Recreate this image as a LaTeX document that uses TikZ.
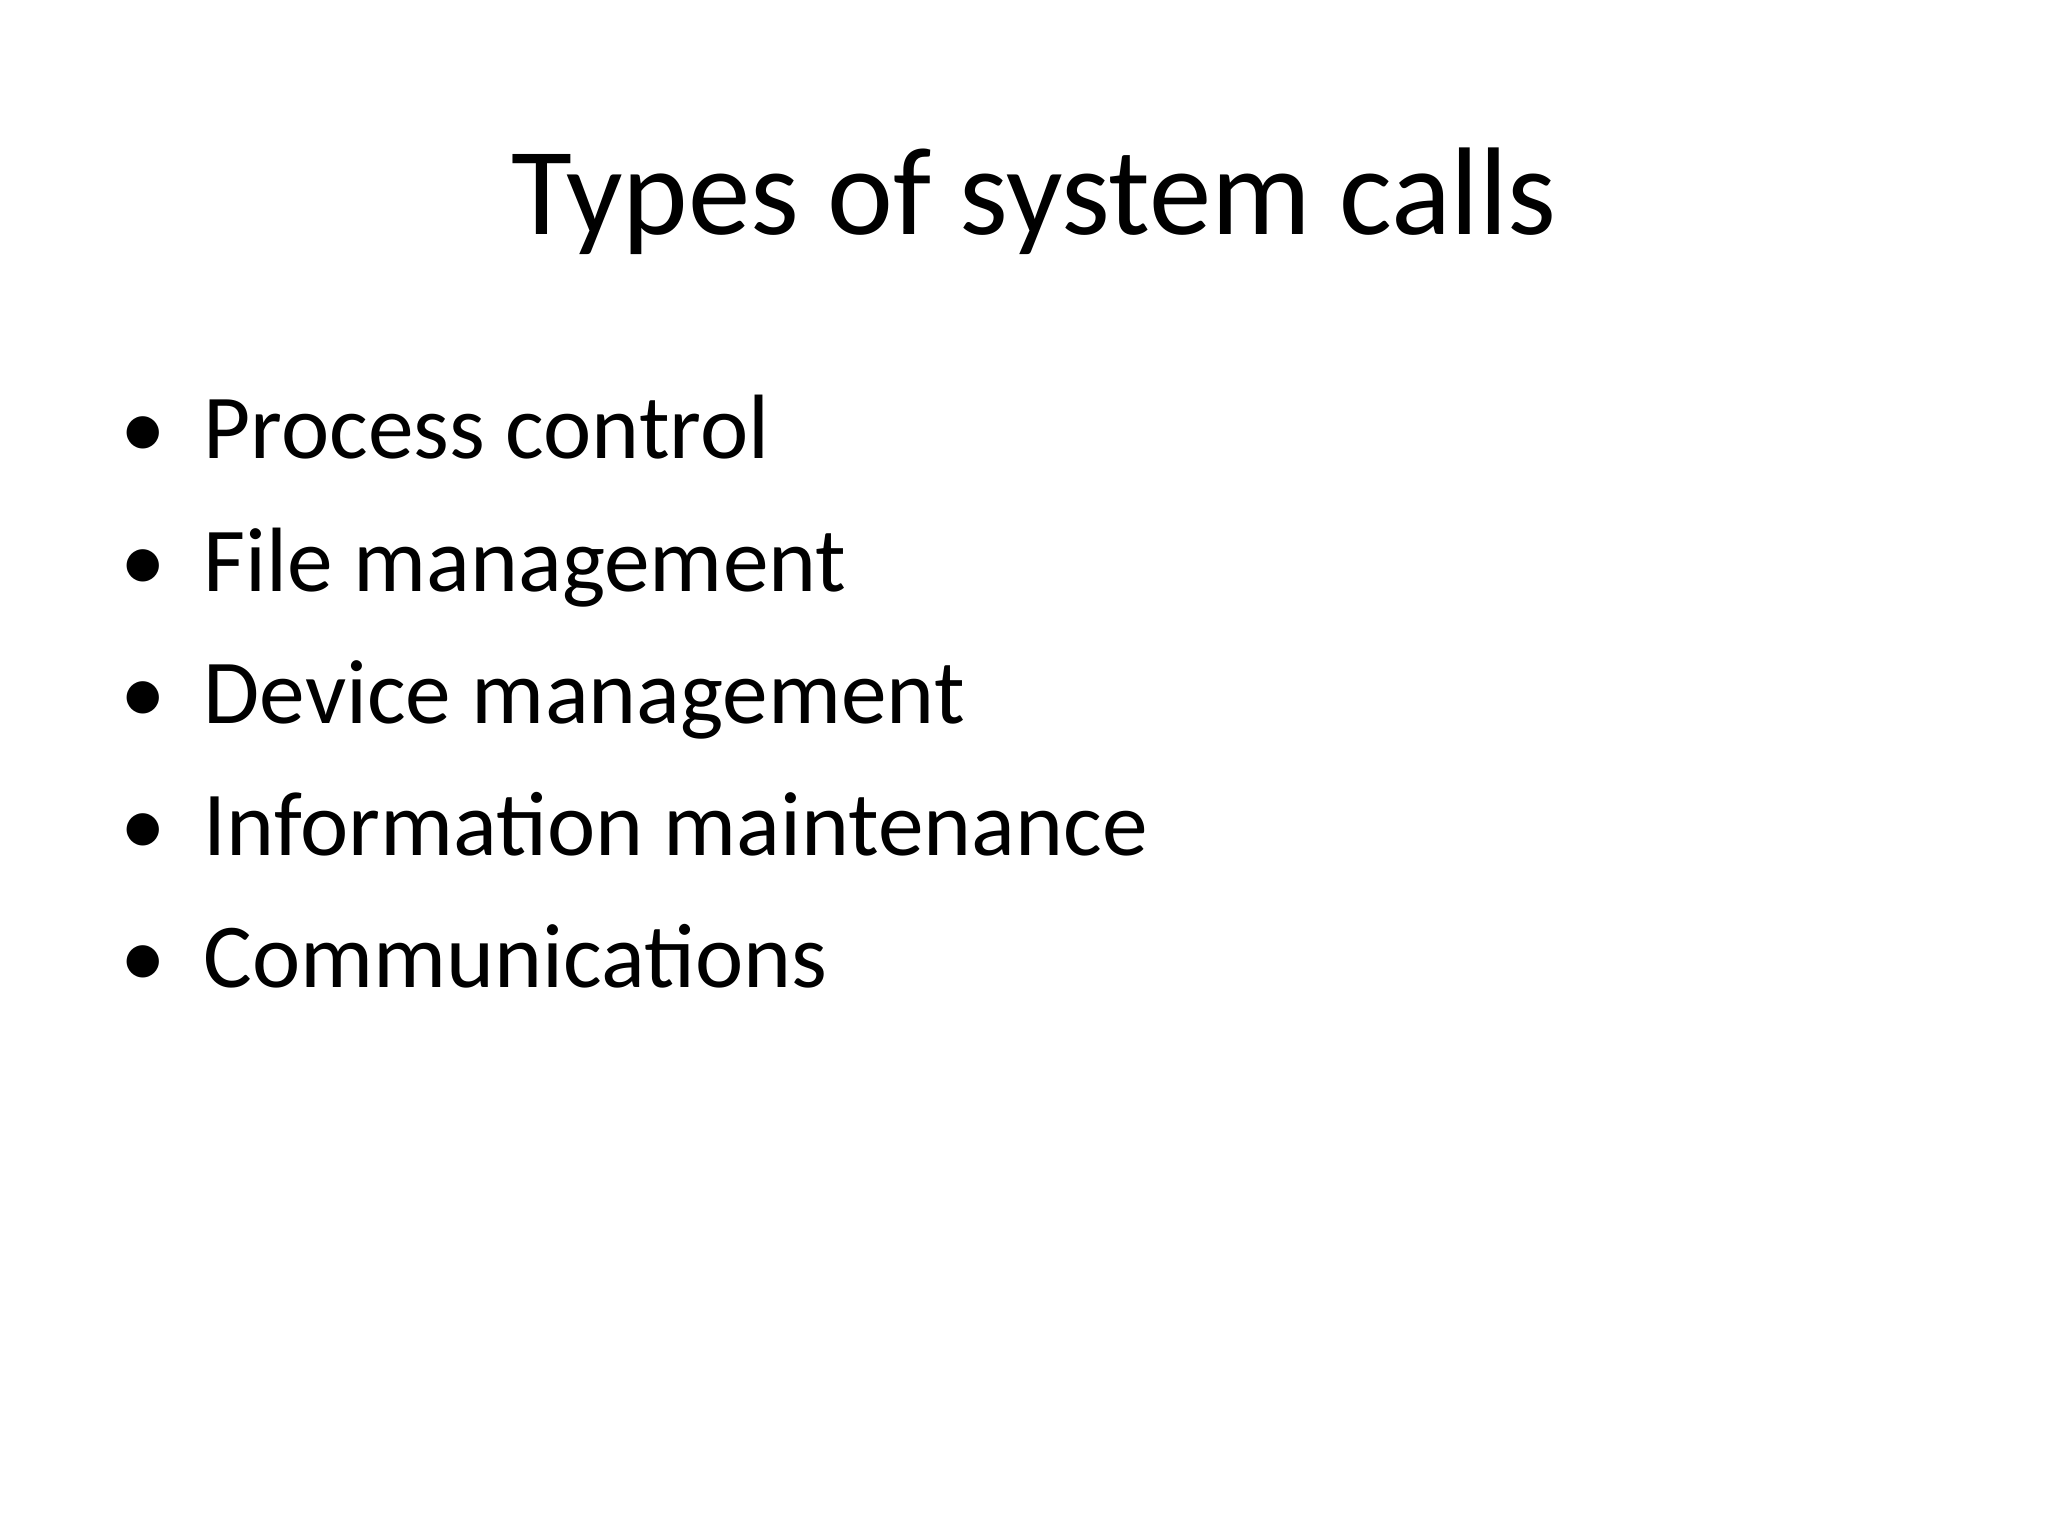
\documentclass[tikz,border=0pt]{standalone}
\usepackage{fontspec}
\setmainfont{Carlito}
\begin{document}
\begin{tikzpicture}[x=1cm,y=-1cm,
  item/.style={anchor=base west,inner sep=0pt,font=\fontsize{26}{30}\selectfont},
  dot/.style={anchor=base,inner sep=0pt,font=\fontsize{26}{30}\selectfont}]
\useasboundingbox (0,0) rectangle (20.48,15.36);
\node[anchor=base,inner sep=0pt,font=\fontsize{35.5}{40}\selectfont] (title) at (10.34,2.35) {Types of system calls};
\foreach \t [count=\i] in {Process control,File management,Device management,Information maintenance,Communications}{
  \node[dot] (b\i) at (1.43,{4.59+1.32*(\i-1)}) {•};
  \node[item] (t\i) at (2.03,{4.59+1.32*(\i-1)}) {\t};
}
\end{tikzpicture}
\end{document}
